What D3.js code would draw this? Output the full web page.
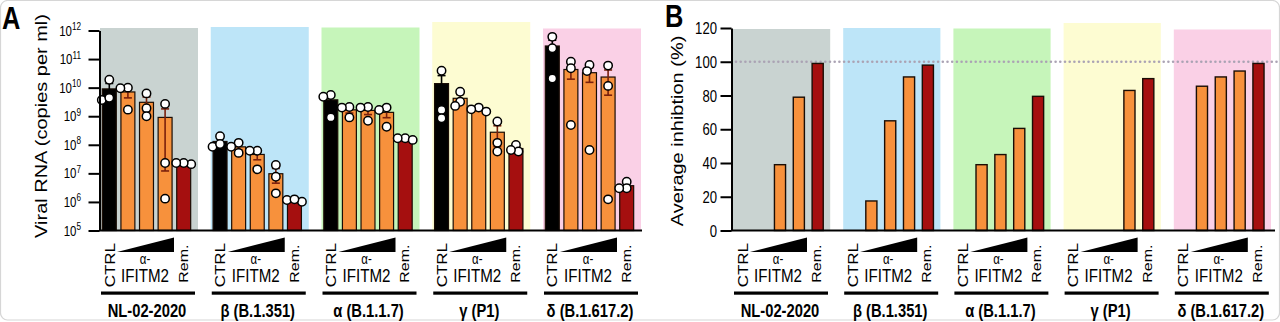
<!DOCTYPE html>
<html>
<head>
<meta charset="utf-8">
<script src="https://cdn.jsdelivr.net/npm/d3@7"></script>
<style>
  html, body { margin: 0; padding: 0; background: #fff; }
  svg { display: block; font-family: "Liberation Sans", Arial, Helvetica, sans-serif; }
</style>
</head>
<body>
<svg id="chart" width="1280" height="322"></svg>
<script>
// ---- data -------------------------------------------------------------
const variants = ["NL-02-2020", "β (B.1.351)", "α (B.1.1.7)", "γ (P1)", "δ (B.1.617.2)"];
const conditions = ["CTRL", "α-IFITM2 low", "α-IFITM2 mid", "α-IFITM2 high", "Rem."];

// Viral RNA (copies per ml), three replicates per condition
const rnaNL    = [[1.9e10, 3.7e9, 4.4e9], [1.0e10, 9.5e9, 1.7e9], [6.3e9, 1.9e9, 1.0e9], [2.7e9, 2.3e7, 1.3e6], [2.1e7, 2.3e7, 2.3e7]];
const rnaBeta  = [[2.0e8, 8.5e7, 1.07e8], [1.17e8, 5.2e7, 8.5e7], [6.2e7, 6.2e7, 1.38e7], [1.95e7, 7.6e6, 2.0e6], [1.17e6, 1.02e6, 1.23e6]];
const rnaAlpha = [[5.5e9, 4.8e9, 9.1e8], [2.1e9, 2.0e9, 9.1e8], [2.1e9, 2.0e9, 6.9e8], [2.0e9, 1.66e9, 4.3e8], [1.7e8, 1.7e8, 1.48e8]];
const rnaGamma = [[3.9e10, 1.66e9, 8.5e8], [7.2e9, 3.2e9, 2.3e9], [2.0e9, 1.74e9, 1.45e9], [6.5e8, 1.17e8, 5.8e7], [9.8e7, 5.8e7, 6.6e7]];
const rnaDelta = [[6.0e11, 2.4e11, 2.1e10], [8.1e10, 4.8e10, 4.9e8], [6.2e10, 3.8e10, 6.6e7], [5.9e10, 1.15e10, 1.23e6], [5.1e6, 3.0e6, 3.0e6]];
const viralRNA = [rnaNL, rnaBeta, rnaAlpha, rnaGamma, rnaDelta];
const rnaTicks = [1e5, 1e6, 1e7, 1e8, 1e9, 1e10, 1e11, 1e12];

// Average inhibition (%)
const inhNL    = [0, 0, 39, 79, 99];
const inhBeta  = [0, 17.5, 65, 91, 98];
const inhAlpha = [0, 39, 45, 60.5, 79.5];
const inhGamma = [0, 0, 0, 83, 90];
const inhDelta = [0, 85.5, 91, 94.5, 99];
const inhibition = [inhNL, inhBeta, inhAlpha, inhGamma, inhDelta];
const inhTicks = [0, 20, 40, 60, 80, 100, 120];
const referenceLevel = 100;

// ---- style ------------------------------------------------------------
const groupFill = ["#c9d3d1", "#bde5f8", "#c6f5ba", "#fdfcd2", "#fad0e6"];
const groupLift = [0, 1, 0.5, 6, -0.5];           // extra height of each shaded panel
const barFill = ["#000000", "#f7913c", "#f7913c", "#f7913c", "#a50f0f"];
const errColor = ["#000000", "#7a200c", "#7a200c", "#7a200c", "#3a0404"];
const SX = 0.82;                                   // horizontal text squeeze

const svg = d3.select("#chart");

// frame
svg.append("rect").attr("x", 0.5).attr("y", 0.5).attr("width", 1279).attr("height", 319.5)
  .attr("rx", 7).attr("fill", "#fff").attr("stroke", "#d6d6d6").attr("stroke-width", 1.2);

function label(parent, x, y, str, o = {}) {
  return parent.append("text")
    .attr("transform", `translate(${x},${y}) scale(${SX},1)` + (o.rotate ? ` rotate(${o.rotate})` : ""))
    .attr("font-size", o.size || 16)
    .attr("font-weight", o.weight || "normal")
    .attr("text-anchor", o.anchor || "start")
    .attr("fill", o.fill || "#000")
    .text(str);
}

// ---- shared pieces ------------------------------------------------------
function drawBackgrounds(g, x0, top, bottom) {
  g.selectAll("rect.bg").data(variants).join("rect")
    .attr("class", "bg")
    .attr("x", d => x0(d))
    .attr("y", (d, i) => top - groupLift[i])
    .attr("width", x0.bandwidth())
    .attr("height", (d, i) => bottom - top + groupLift[i])
    .attr("fill", (d, i) => groupFill[i]);
}

function drawGroupLabels(g, x0) {
  variants.forEach(v => {
    const gx = x0(v);
    label(g, gx + 14.5, 243, "CTRL", { size: 17, rotate: -90, anchor: "end" });
    label(g, gx + 88, 244.5, "Rem.", { size: 16, rotate: -90, anchor: "end" });
    g.append("path")
      .attr("d", `M${gx + 17},252 L${gx + 74},237.5 L${gx + 74},252 Z`)
      .attr("fill", "#000");
    label(g, gx + 45, 264, "α-", { size: 14, anchor: "middle" });
    label(g, gx + 45, 281.5, "IFITM2", { size: 18.5, anchor: "middle" });
    g.append("rect").attr("x", gx + 1).attr("y", 291.5).attr("width", 94).attr("height", 3.2).attr("fill", "#000");
    label(g, gx + 47, 316.5, v, { size: 18, weight: "bold", anchor: "middle" });
  });
}

function styleAxis(sel) {
  sel.select(".domain").attr("stroke", "#000").attr("stroke-width", 2);
  sel.selectAll(".tick line").attr("stroke", "#000").attr("stroke-width", 2);
}

// ---- panel A : viral RNA (log scale) -----------------------------------
const gA = svg.append("g");
const baseA = 230.5;
const x0A = d3.scaleBand().domain(variants).range([100, 641]).paddingInner(0.1151).paddingOuter(0);
const x1A = d3.scaleBand().domain(conditions).range([0, 93]).paddingInner(0.25).paddingOuter(0.125);
const yA = d3.scaleLog().domain([1e5, 1e12]).range([baseA, 30.5]);

drawBackgrounds(gA, x0A, 28, baseA);

const statsA = viralRNA.map(groupVals => groupVals.map(reps => {
  const m = d3.mean(reps);
  const sem = d3.deviation(reps) / Math.sqrt(reps.length);
  return { mean: m, lo: Math.max(m - sem, 1e5), hi: m + sem, reps };
}));

variants.forEach((v, gi) => {
  const gx = x0A(v);
  conditions.forEach((c, ci) => {
    const s = statsA[gi][ci];
    const bx = gx + x1A(c), bw = x1A.bandwidth(), cx = bx + bw / 2;
    gA.append("rect")
      .attr("x", bx).attr("y", yA(s.mean))
      .attr("width", bw).attr("height", baseA - yA(s.mean))
      .attr("fill", barFill[ci]).attr("stroke", "#1a0d05").attr("stroke-width", 1.2);
    // ± SEM
    const eg = gA.append("g").attr("stroke", errColor[ci]).attr("stroke-width", 1.6);
    eg.append("line").attr("x1", cx).attr("x2", cx).attr("y1", yA(s.lo)).attr("y2", yA(s.hi));
    eg.append("line").attr("x1", cx - 4).attr("x2", cx + 4).attr("y1", yA(s.hi)).attr("y2", yA(s.hi));
    if (s.lo > 1e5) eg.append("line").attr("x1", cx - 4).attr("x2", cx + 4).attr("y1", yA(s.lo)).attr("y2", yA(s.lo));
  });
});

// replicate points, spread sideways where they would overlap
function swarm(ys, minDist) {
  const order = ys.map((y, i) => i).sort((a, b) => ys[a] - ys[b]);
  const placed = [], offs = [];
  const cands = [0, -2.5, 2.5, -5, 5, -7.5, 7.5, -10, 10];
  order.forEach(i => {
    let dx = cands.find(c => placed.every(p => Math.hypot(p.dx - c, p.y - ys[i]) >= minDist));
    if (dx === undefined) dx = 0;
    placed.push({ dx, y: ys[i] });
    offs[i] = dx;
  });
  return offs;
}

variants.forEach((v, gi) => {
  const gx = x0A(v);
  conditions.forEach((c, ci) => {
    const reps = statsA[gi][ci].reps;
    const cx = gx + x1A(c) + x1A.bandwidth() / 2;
    const ys = reps.map(r => yA(r));
    const offs = swarm(ys, 6.4);
    reps.forEach((r, k) => {
      gA.append("circle")
        .attr("cx", cx + offs[k]).attr("cy", ys[k]).attr("r", 4.2)
        .attr("fill", "#fff").attr("stroke", "#000").attr("stroke-width", 1.5);
    });
  });
});

// axes A
gA.append("line").attr("x1", 99).attr("x2", 642).attr("y1", baseA).attr("y2", baseA)
  .attr("stroke", "#000").attr("stroke-width", 2);
gA.append("g").attr("transform", "translate(99.5,0)")
  .call(d3.axisLeft(yA).tickValues(rnaTicks).tickSize(11).tickSizeOuter(0).tickFormat(""))
  .call(styleAxis);
rnaTicks.forEach(t => {
  const e = Math.round(Math.log10(t));
  const tx = label(gA, 81, yA(t) + 5, "", { size: 14, anchor: "end" });
  tx.append("tspan").text("10");
  tx.append("tspan").attr("font-size", 10).attr("dy", -5.5).text(String(e));
});
label(gA, 47, 126, "Viral RNA (copies per ml)", { size: 20, rotate: -90, anchor: "middle" });
label(gA, 2, 29, "A", { size: 31, weight: "bold" });
drawGroupLabels(gA, x0A);

// ---- panel B : average inhibition ---------------------------------------
const gB = svg.append("g");
const baseB = 230.5;
const x0B = d3.scaleBand().domain(variants).range([733, 1271]).paddingInner(0.118).paddingOuter(0);
const x1B = d3.scaleBand().domain(conditions).range([0, 94]).paddingInner(0.41).paddingOuter(0.2);
const yB = d3.scaleLinear().domain([0, 120]).range([baseB, 28]);

drawBackgrounds(gB, x0B, 29, baseB);

gB.append("line")
  .attr("x1", 736).attr("x2", 1280).attr("y1", yB(referenceLevel)).attr("y2", yB(referenceLevel))
  .attr("stroke", "#aba3b4").attr("stroke-width", 2.6)
  .attr("stroke-linecap", "round").attr("stroke-dasharray", "0 4.7");

variants.forEach((v, gi) => {
  const gx = x0B(v);
  conditions.forEach((c, ci) => {
    const val = inhibition[gi][ci];
    if (val <= 0) return;
    gB.append("rect")
      .attr("x", gx + x1B(c)).attr("y", yB(val))
      .attr("width", x1B.bandwidth()).attr("height", baseB - yB(val))
      .attr("fill", barFill[ci]).attr("stroke", "#1a0d05").attr("stroke-width", 1.4);
  });
});

gB.append("line").attr("x1", 731).attr("x2", 1275).attr("y1", baseB).attr("y2", baseB)
  .attr("stroke", "#000").attr("stroke-width", 2);
gB.append("g").attr("transform", "translate(731.5,0)")
  .call(d3.axisLeft(yB).tickValues(inhTicks).tickSize(11).tickSizeOuter(0).tickFormat(""))
  .call(styleAxis);
inhTicks.forEach(t => label(gB, 717, yB(t) + 6, String(t), { size: 16, anchor: "end" }));
label(gB, 683, 131, "Average inhibtion (%)", { size: 20, rotate: -90, anchor: "middle" });
label(gB, 665, 27, "B", { size: 31, weight: "bold" });
drawGroupLabels(gB, x0B);
</script>
</body>
</html>
